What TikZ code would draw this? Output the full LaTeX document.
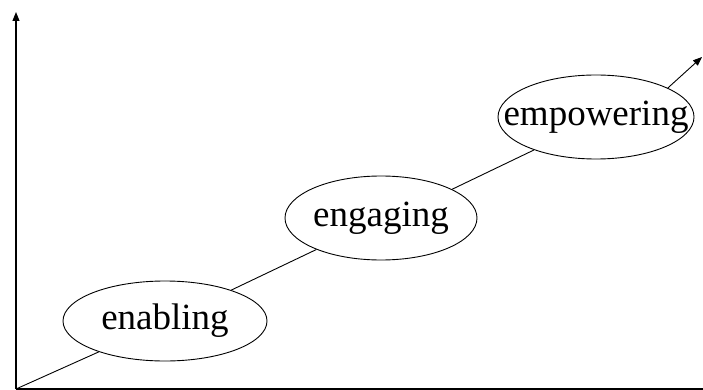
\documentclass[tikz,border=0pt]{standalone}
\usepackage{fontspec}
\setmainfont{Liberation Serif}
\usetikzlibrary{shapes.geometric, arrows.meta}
\tikzset{
	stage/.style = {ellipse, draw, line width=0.9pt, inner sep=0pt, font=\fontsize{37}{40}\selectfont},
	axisline/.style = {line width=1.1pt},
	rise/.style = {line width=0.9pt}
}
% the ellipse is set by its size, not by the width of the word
\newcommand{\stagetext}[1]{\makebox[0pt]{#1}}

\begin{document}
\begin{tikzpicture}[x=1pt, y=-1pt]
	\useasboundingbox (0,0) rectangle (703,390);

	\coordinate (origin) at (16,389);
	\coordinate (ytop) at (16,12);
	\coordinate (xend) at (703,389);
	\coordinate (tip) at (702,57);

	\draw [axisline, -{Triangle[length=9pt,width=7pt]}] (origin) -- (ytop);
	\draw [axisline] (origin) -- (xend);

	\node [stage, minimum width=204, minimum height=80] (enabling) at (165,321) {\stagetext{enabling}};
	\node [stage, minimum width=192, minimum height=84] (engaging) at (381,218) {\stagetext{engaging}};
	\node [stage, minimum width=196, minimum height=84] (empowering) at (596,117) {\stagetext{empowering}};

	\draw [rise] (origin) -- (enabling.205);
	\draw [rise] (enabling.25) -- (engaging.206);
	\draw [rise] (engaging.22) -- (empowering.208);
	\draw [rise, -{Triangle[length=9pt,width=7pt]}] (empowering.22) -- (tip);
\end{tikzpicture}
\end{document}
